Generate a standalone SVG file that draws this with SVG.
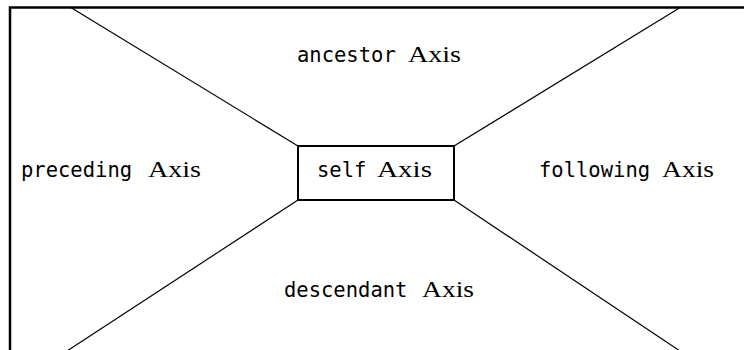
<svg xmlns="http://www.w3.org/2000/svg" width="744" height="350" viewBox="0 0 744 350">
<style>
.frame{stroke:#000;stroke-width:2.5;fill:none}
.edge{stroke:#000;stroke-width:1.2;fill:none}
.box{stroke:#000;stroke-width:2;fill:#fff}
.lbl{fill:#000}
.mono{font-family:"DejaVu Sans Mono",monospace;font-size:20.5px}
.serif{font-family:"Liberation Serif",serif;font-size:24px}
</style>
<rect width="744" height="350" fill="#fff"/>
<g id="frame">
<polyline class="frame" points="10,351 10,7.5 745,7.5"/>
</g>
<g id="connectors">
<line class="edge" x1="70" y1="7" x2="298" y2="146"/>
<line class="edge" x1="681" y1="7" x2="454" y2="146"/>
<line class="edge" x1="298" y1="200" x2="67" y2="351"/>
<line class="edge" x1="454" y1="200" x2="680" y2="351"/>
</g>
<g id="self">
<rect class="box" x="298" y="146" width="156" height="54"/>
<text class="lbl" y="177"><tspan class="mono" x="317">self</tspan><tspan class="serif" x="377" textLength="55" lengthAdjust="spacingAndGlyphs">Axis</tspan></text>
</g>
<g id="ancestor">
<text class="lbl" y="62"><tspan class="mono" x="297">ancestor</tspan><tspan class="serif" x="408" textLength="53" lengthAdjust="spacingAndGlyphs">Axis</tspan></text>
</g>
<g id="preceding">
<text class="lbl" y="177"><tspan class="mono" x="21">preceding</tspan><tspan class="serif" x="148" textLength="53" lengthAdjust="spacingAndGlyphs">Axis</tspan></text>
</g>
<g id="following">
<text class="lbl" y="177"><tspan class="mono" x="539">following</tspan><tspan class="serif" x="662" textLength="52" lengthAdjust="spacingAndGlyphs">Axis</tspan></text>
</g>
<g id="descendant">
<text class="lbl" y="297"><tspan class="mono" x="284">descendant</tspan><tspan class="serif" x="422" textLength="52" lengthAdjust="spacingAndGlyphs">Axis</tspan></text>
</g>
</svg>
